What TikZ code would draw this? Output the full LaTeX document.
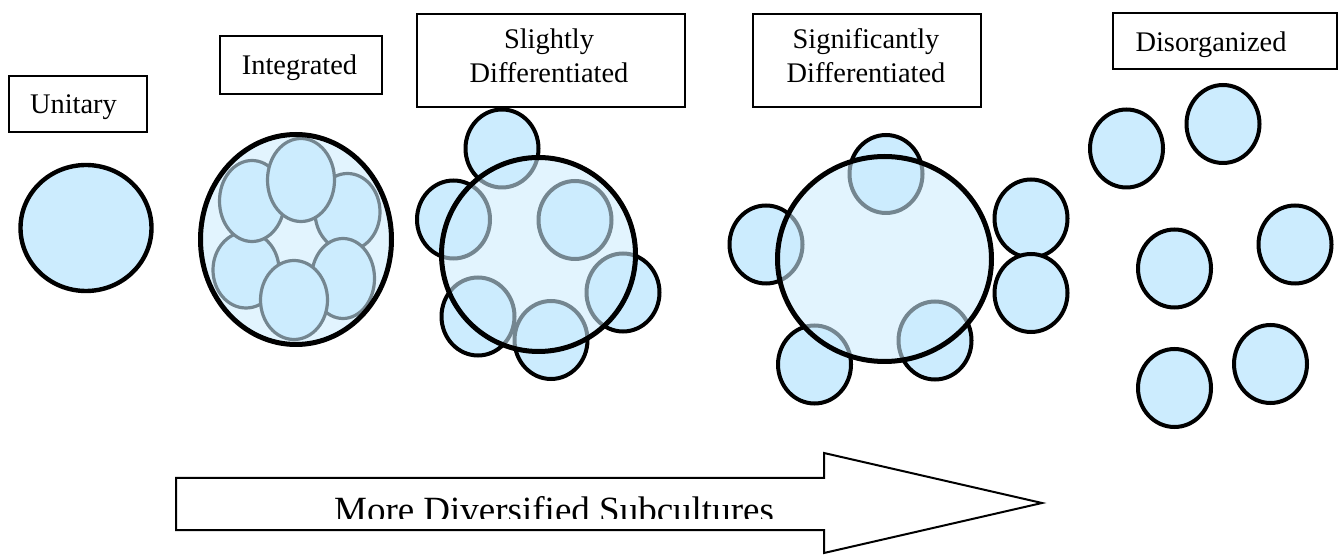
\documentclass[tikz,border=0pt]{standalone}
\usepackage{fontspec}
\setmainfont{Liberation Serif}
\usetikzlibrary{shapes.geometric}
\definecolor{cellfill}{RGB}{204,236,254}

\begin{document}
\begin{tikzpicture}[x=0.5pt,y=-0.5pt,
  lbox/.style={draw=black, line width=1pt, inner sep=0pt},
  lbl/.style={font=\fontsize{14.2}{17}\selectfont, inner sep=0pt, align=center, anchor=base},
  cell/.style={ellipse, draw=black, line width=2pt, fill=cellfill, inner sep=0pt,
               minimum width=36.5pt, minimum height=39pt},
  member/.style={ellipse, draw=black, line width=1.6pt, fill=cellfill, inner sep=0pt},
  group/.style={ellipse, draw=black, line width=2.5pt, fill=cellfill, fill opacity=0.57,
                inner sep=0pt},
  bigarrow/.style={draw=black, line width=1pt, fill=white}]
\useasboundingbox (0,0) rectangle (1344,555);

% ---- labels (base anchor = baseline of the last line) ----
\node[lbox, minimum width=69pt, minimum height=28pt] (bunit) at (78,104) {};
\node[lbl] (tunit) at (73.5,114) {Unitary};
\node[lbox, minimum width=81pt, minimum height=29pt] (binteg) at (301,65) {};
\node[lbl] (tinteg) at (299.5,75) {Integrated};
\node[lbox, minimum width=134pt, minimum height=46.5pt] (bslight) at (551,60.5) {};
\node[lbl] (tslight) at (549,83) {Slightly\\Differentiated};
\node[lbox, minimum width=114pt, minimum height=46.5pt] (bsignif) at (867,60.5) {};
\node[lbl] (tsignif) at (866,83) {Significantly\\Differentiated};
\node[lbox, minimum width=112pt, minimum height=28pt] (bdisorg) at (1225,41) {};
\node[lbl] (tdisorg) at (1211,52) {Disorganized};

% ---- unitary ----
\node[cell, line width=2.2pt, minimum width=65.5pt, minimum height=63pt] (unit) at (86,228) {};

% ---- integrated ----
\node[member, minimum width=32.5pt, minimum height=38.5pt] (i3) at (347.5,212) {};
\node[member, minimum width=33pt, minimum height=38pt] (i4) at (246,270) {};
\node[member, minimum width=31.5pt, minimum height=40pt] (i6) at (343,278.5) {};
\node[member, minimum width=33.5pt, minimum height=39.5pt] (i5) at (294,300) {};
\node[member, minimum width=32.5pt, minimum height=40.5pt] (i1) at (252,201) {};
\node[member, minimum width=33.5pt, minimum height=41.5pt] (i2) at (301,180) {};
\node[group, minimum width=95.5pt, minimum height=105pt] (integ) at (296,239.5) {};

% ---- slightly differentiated ----
\node[cell] (sa) at (502,148.5) {};
\node[cell] (sb) at (453.5,219.5) {};
\node[cell] (sc) at (575,220) {};
\node[cell] (sd) at (623,292.5) {};
\node[cell] (se) at (478,316.5) {};
\node[cell] (sf) at (551,340) {};
\node[group, minimum width=97pt, minimum height=97pt] (slight) at (538.5,254.5) {};

% ---- significantly differentiated ----
\node[cell] (ga) at (886,174) {};
\node[cell] (gb) at (766,244.5) {};
\node[cell] (gc) at (1031,218.5) {};
\node[cell] (gd) at (1031,293) {};
\node[cell] (ge) at (814.5,364.5) {};
\node[cell] (gf) at (935,340.5) {};
\node[group, minimum width=107pt, minimum height=102.5pt] (signif) at (884.5,259) {};

% ---- disorganized ----
\node[cell] (d1) at (1126.5,148.5) {};
\node[cell] (d2) at (1223,124) {};
\node[cell] (d3) at (1295,244.5) {};
\node[cell] (d4) at (1174.5,268.5) {};
\node[cell] (d5) at (1270.5,364) {};
\node[cell] (d6) at (1174.5,388) {};

% ---- direction arrow ----
\coordinate (atip) at (1042,503);
\draw[bigarrow] (176,478) -- (824,478) -- (824,453) -- (atip) -- (824,553)
  -- (824,530) -- (176,530) -- cycle;
\begin{scope}
  \clip (176,470) rectangle (824,518);
  \node[font=\fontsize{18.5}{20}\selectfont, inner sep=0pt, anchor=base] (atext) at (554,523)
    {More Diversified Subcultures};
\end{scope}
\end{tikzpicture}
\end{document}
